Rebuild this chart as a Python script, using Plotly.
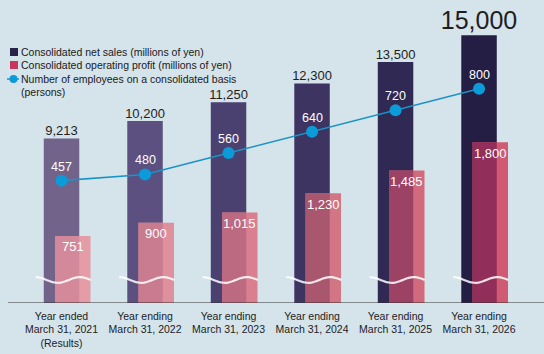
import numpy as np
import plotly.graph_objects as go

categories = ["Year ended<br>March 31, 2021<br>(Results)",
              "Year ending<br>March 31, 2022",
              "Year ending<br>March 31, 2023",
              "Year ending<br>March 31, 2024",
              "Year ending<br>March 31, 2025",
              "Year ending<br>March 31, 2026"]
net_sales = [9213, 10200, 11250, 12300, 13500, 15000]
op_profit = [751, 900, 1015, 1230, 1485, 1800]
employees = [457, 480, 560, 640, 720, 800]

sales_colors = ["#716389", "#5c5080", "#4b4170", "#3d3462", "#2f2953", "#241e45"]
profit_main = ["#d3899a", "#c97b8f", "#bb6a82", "#a9566f", "#9c4264", "#922e5a"]
profit_light = ["#e49ca7", "#de909d", "#d97f8f", "#d27585", "#d06a7c", "#cf5a72"]

BG = "#d5e3ea"
FONT = "Liberation Sans, Arial, sans-serif"
xs = np.arange(len(categories))

SALES_TOP = 16975
fig = go.Figure()

BW = 0.425
P_OFF = -0.078
fig.add_trace(go.Bar(x=xs, y=net_sales, width=BW, offset=-BW / 2,
                     marker=dict(color=sales_colors, line=dict(width=0)),
                     yaxis="y", showlegend=False, hoverinfo="skip"))
fig.add_trace(go.Bar(x=xs, y=op_profit, width=BW, offset=P_OFF,
                     marker=dict(color=profit_light, line=dict(width=0)),
                     yaxis="y2", showlegend=False, hoverinfo="skip"))
fig.add_trace(go.Bar(x=xs, y=op_profit, width=0.29, offset=P_OFF,
                     marker=dict(color=profit_main, line=dict(width=0)),
                     yaxis="y2", showlegend=False, hoverinfo="skip"))

# sales labels
fig.add_trace(go.Scatter(x=xs, y=net_sales, mode="text",
                         text=[f"{v:,}" for v in net_sales],
                         textposition="top center",
                         textfont=dict(size=[13, 13, 13, 13, 13, 25], color="#1e1e1e",
                                       family=FONT),
                         yaxis="y", showlegend=False, hoverinfo="skip", cliponaxis=False))
# employees line
fig.add_trace(go.Scatter(x=xs, y=employees, mode="lines+markers",
                         line=dict(color="#1a93c6", width=1.6),
                         marker=dict(color="#0c9bd9", size=12),
                         yaxis="y3", showlegend=False, hoverinfo="skip"))

annotations = []
for i, v in zip(xs, op_profit):
    annotations.append(dict(x=i + P_OFF + BW / 2, y=v, xref="x", yref="y2",
                            text=f"{v:,}", showarrow=False, yshift=-11,
                            xanchor="center", yanchor="middle",
                            font=dict(size=13, color="white", family=FONT)))
for i, v in zip(xs, employees):
    annotations.append(dict(x=i, y=v, xref="x", yref="y3",
                            text=f"{v:,}", showarrow=False, yshift=14,
                            xanchor="center", yanchor="middle",
                            font=dict(size=12.5, color="white", family=FONT)))

# wave break decoration
shapes = []
for i in xs:
    t = np.linspace(0, 1, 25)
    wx = i - 0.31 + t * 0.66
    wy = 1290 + 160 * np.sin(2 * np.pi * (t * 1.25 + 0.25))
    path = "M " + " L ".join(f"{a:.4f},{b:.1f}" for a, b in zip(wx, wy))
    shapes.append(dict(type="path", path=path, xref="x", yref="y",
                       line=dict(color="rgba(255,255,255,0.85)", width=2.2)))

# axis baseline
shapes.append(dict(type="line", xref="paper", yref="y", x0=0, x1=1, y0=0, y1=0,
                   line=dict(color="#333333", width=1.2)))

# custom legend
shapes.append(dict(type="rect", xref="paper", yref="paper",
                   x0=(10 - 8) / 536, x1=(18 - 8) / 536,
                   y0=(303 - 56) / 303, y1=(303 - 48) / 303,
                   fillcolor="#29234a", line=dict(width=0)))
shapes.append(dict(type="rect", xref="paper", yref="paper",
                   x0=(10 - 8) / 536, x1=(18 - 8) / 536,
                   y0=(303 - 69) / 303, y1=(303 - 61) / 303,
                   fillcolor="#c9375f", line=dict(width=0)))
shapes.append(dict(type="line", xref="paper", yref="paper",
                   x0=(7 - 8) / 536, x1=(19 - 8) / 536,
                   y0=(303 - 79) / 303, y1=(303 - 79) / 303,
                   line=dict(color="#1a93c6", width=1.5)))
shapes.append(dict(type="circle", xref="paper", yref="paper",
                   x0=(9.5 - 8) / 536, x1=(17.5 - 8) / 536,
                   y0=(303 - 83) / 303, y1=(303 - 75) / 303,
                   fillcolor="#0c9bd9", line=dict(width=0)))

legend_texts = ["Consolidated net sales (millions of yen)",
                "Consolidated operating profit (millions of yen)",
                "Number of employees on a consolidated basis",
                "(persons)"]
legend_y = [52, 65, 79, 92]
for txt, yy in zip(legend_texts, legend_y):
    annotations.append(dict(text=txt, xref="paper", yref="paper",
                            x=(19 - 8) / 536, y=(303 - yy) / 303,
                            xanchor="left", yanchor="middle", showarrow=False,
                            font=dict(size=10.5, color="#1a1a1a", family=FONT)))

fig.update_layout(
    width=544, height=354,
    margin=dict(l=8, r=0, t=0, b=51),
    paper_bgcolor=BG, plot_bgcolor=BG,
    barmode="overlay",
    shapes=shapes, annotations=annotations,
    xaxis=dict(range=[-0.641, 5.778], tickvals=list(xs), ticktext=categories,
               showgrid=False, zeroline=False, showline=False, ticks="",
               ticklabelstandoff=5,
               tickfont=dict(size=10.5, color="#222222", family=FONT)),
    yaxis=dict(range=[0, SALES_TOP], visible=False),
    yaxis2=dict(range=[0, SALES_TOP / 5], visible=False, overlaying="y"),
    yaxis3=dict(range=[0, SALES_TOP / 15], visible=False, overlaying="y"),
)

fig.write_html("out.html")
